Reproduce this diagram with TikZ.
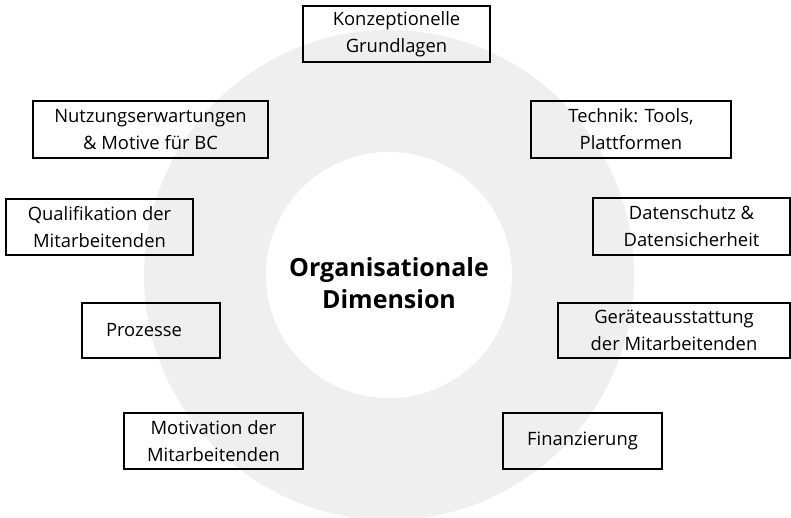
\documentclass[tikz,border=0pt]{standalone}
\usepackage{fontspec}
\setmainfont{Open Sans}
\usepackage{xcolor}
\usepackage{tikz}
\usetikzlibrary{positioning}
\definecolor{ringgray}{RGB}{239,239,239}
\tikzstyle{Box} = [
draw=black, 
line width=1.8pt, 
align=center, 
inner sep=0pt, 
font=\fontsize{18.4}{27}\selectfont
]
\tikzstyle{Center} = [
align=center, 
font=\bfseries\fontsize{25}{32}\selectfont
]

\begin{document}
\begin{tikzpicture}[x=1pt, y=-1pt]
			\useasboundingbox (0,0) rectangle (791,518);
			\clip (0,0) rectangle (791,518);
			% ring
			\fill[ringgray] (389,275) circle [radius=245pt];
			\fill[white] (389,275) circle [radius=123pt];
			
			\node[Center] (0) at (389,283) {Organisationale\\Dimension};
			\node[Box, minimum width=187pt, minimum height=56pt] (1) at (396.5,34) {Konzeptionelle\\Grundlagen};
			\node[Box, minimum width=200pt, minimum height=57pt] (2) at (631,129.5) {Technik: Tools,\\Plattformen};
			\node[Box, minimum width=197pt, minimum height=57pt] (3) at (691.5,226.5) {Datenschutz \&\\Datensicherheit};
			\node[Box, minimum width=232pt, minimum height=55pt] (4) at (674,330.5) {Geräteausstattung\\der Mitarbeitenden};
			\node[Box, minimum width=159pt, minimum height=56pt] (5) at (582.5,441) {Finanzierung};
			\node[Box, minimum width=179pt, minimum height=56pt] (6) at (213.5,441) {Motivation der\\Mitarbeitenden};
			\node[Box, minimum width=138pt, minimum height=55pt] (7) at (151,330.5) {Prozesse\hspace*{14pt}};
			\node[Box, minimum width=187pt, minimum height=56pt] (8) at (99.5,227) {Qualifikation der\\Mitarbeitenden};
			\node[Box, minimum width=235pt, minimum height=57pt] (9) at (150.5,129.5) {Nutzungserwartungen\\\& Motive für BC};
		\end{tikzpicture}
\end{document}
